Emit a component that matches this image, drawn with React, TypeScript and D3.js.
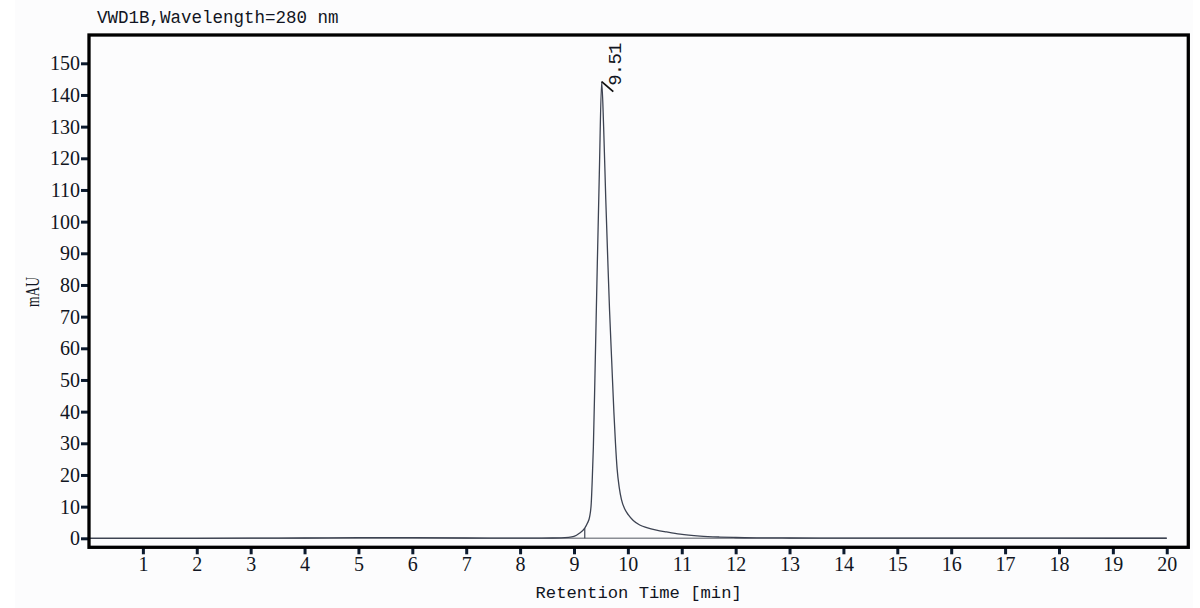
import React, { useEffect, useRef } from 'react';
import { axisBottom, axisLeft, curveMonotoneX, line, scaleLinear, select } from 'd3';

// chromatogram trace (time in min, signal in mAU)
const times = [
  0, 1, 2, 3, 4, 5, 6, 7, 8, 8.6, 8.9, 9.0, 9.1, 9.2, 9.25, 9.29, 9.32, 9.34, 9.36,
  9.39, 9.432, 9.47, 9.514, 9.55, 9.59, 9.627, 9.66, 9.7, 9.74, 9.77, 9.8, 9.84, 9.88,
  9.94, 10.01, 10.1, 10.22, 10.35, 10.53, 10.72, 10.97, 11.34, 11.7, 12, 12.5, 13, 14,
  15, 16, 17, 18, 19, 20,
];
const signal = [
  0, 0, 0, 0.05, 0.1, 0.2, 0.2, 0.1, 0.05, 0.1, 0.3, 0.6, 1.6, 3.2, 4.8, 6.8, 11, 19, 29,
  52, 86, 115, 144.2, 130, 107, 88, 72, 56, 40, 30, 22, 16, 12.3,
  9.3, 7.4, 5.6, 4.2, 3.4, 2.6, 2.0, 1.3, 0.7, 0.4, 0.25, 0.15, 0.1, 0.05,
  0.05, 0.05, 0.03, 0.03, 0.02, 0.02,
];

const xTicks = [1, 2, 3, 4, 5, 6, 7, 8, 9, 10, 11, 12, 13, 14, 15, 16, 17, 18, 19, 20];
const yTicks = [0, 10, 20, 30, 40, 50, 60, 70, 80, 90, 100, 110, 120, 130, 140, 150];

const peakTime = 9.514;
const peakHeight = 144.2;
const peakLabel = '9.51';
const integrationStart = 9.2;
const integrationStartValue = 3.2;

const title = 'VWD1B,Wavelength=280 nm';
const xTitle = 'Retention Time [min]';
const yTitle = 'mAU';

const W = 1200;
const H = 608;
const frame = { left: 89, top: 35, right: 1188.3, bottom: 547.3 };

const monoFont = '"Liberation Mono", "DejaVu Sans Mono", monospace';
const serifFont = '"Liberation Serif", "DejaVu Serif", serif';
const ink = '#111522';

const App: React.FC = () => {
  const svgRef = useRef<SVGSVGElement>(null);

  useEffect(() => {
    const svg = select(svgRef.current);
    svg.selectAll('*').remove();

    const xScale = scaleLinear().domain([0, 20.4]).range([frame.left, frame.right]);
    const yScale = scaleLinear().domain([0, 150]).range([538.3, 63.3]);

    svg
      .append('rect')
      .attr('x', 15)
      .attr('y', 0)
      .attr('width', 1178)
      .attr('height', H)
      .attr('fill', '#fcfcfd');

    // baseline
    svg
      .append('line')
      .attr('x1', xScale(0))
      .attr('x2', xScale(20))
      .attr('y1', yScale(0))
      .attr('y2', yScale(0))
      .attr('stroke', '#8a8d94')
      .attr('stroke-width', 1.6);

    // trace
    const pts = times.map((t, i) => [t, signal[i]] as [number, number]);
    const path = line<[number, number]>()
      .x((d) => xScale(d[0]))
      .y((d) => yScale(d[1]))
      .curve(curveMonotoneX);
    svg
      .append('path')
      .attr('d', path(pts))
      .attr('fill', 'none')
      .attr('stroke', '#3d4352')
      .attr('stroke-width', 1.3);

    // integration start drop line
    svg
      .append('line')
      .attr('x1', xScale(integrationStart))
      .attr('x2', xScale(integrationStart))
      .attr('y1', yScale(0))
      .attr('y2', yScale(integrationStartValue))
      .attr('stroke', '#3d4352')
      .attr('stroke-width', 1.2);

    // peak leader + label
    const px = xScale(peakTime);
    const py = yScale(peakHeight);
    svg
      .append('line')
      .attr('x1', px)
      .attr('y1', py)
      .attr('x2', px + 11.6)
      .attr('y2', py + 10)
      .attr('stroke', '#111')
      .attr('stroke-width', 1.8);
    svg
      .append('text')
      .attr('transform', `translate(${px + 19}, ${py + 4}) rotate(-90)`)
      .attr('font-family', monoFont)
      .attr('font-size', 19)
      .attr('textLength', 43)
      .attr('lengthAdjust', 'spacing')
      .attr('fill', ink)
      .text(peakLabel);

    // axes
    const xAxis = axisBottom(xScale).tickValues(xTicks).tickSize(7).tickSizeOuter(0).tickPadding(3);
    const gx = svg
      .append('g')
      .attr('transform', `translate(0, ${frame.bottom})`)
      .call(xAxis);
    gx.select('.domain').remove();
    gx.selectAll('.tick line').attr('stroke', '#0c1a2e').attr('stroke-width', 3);
    gx.selectAll('.tick text')
      .attr('font-family', serifFont)
      .attr('font-size', 20)
      .attr('fill', ink);

    const yAxis = axisLeft(yScale).tickValues(yTicks).tickSize(8).tickSizeOuter(0).tickPadding(1);
    const gy = svg
      .append('g')
      .attr('transform', `translate(${frame.left}, 0)`)
      .call(yAxis);
    gy.select('.domain').remove();
    gy.selectAll('.tick line').attr('stroke', '#0c1a2e').attr('stroke-width', 3);
    gy.selectAll('.tick text')
      .attr('font-family', serifFont)
      .attr('font-size', 20)
      .attr('fill', ink);

    // frame
    svg
      .append('rect')
      .attr('x', frame.left)
      .attr('y', frame.top)
      .attr('width', frame.right - frame.left)
      .attr('height', frame.bottom - frame.top)
      .attr('fill', 'none')
      .attr('stroke', '#000')
      .attr('stroke-width', 3.3);

    // titles
    svg
      .append('text')
      .attr('x', 97)
      .attr('y', 23)
      .attr('font-family', monoFont)
      .attr('font-size', 17.5)
      .attr('fill', ink)
      .text(title);

    svg
      .append('text')
      .attr('x', (frame.left + frame.right) / 2)
      .attr('y', 598)
      .attr('text-anchor', 'middle')
      .attr('font-family', monoFont)
      .attr('font-size', 17.2)
      .attr('fill', ink)
      .text(xTitle);

    svg
      .append('text')
      .attr('transform', `translate(39, 292) rotate(-90)`)
      .attr('text-anchor', 'middle')
      .attr('font-family', serifFont)
      .attr('font-size', 19)
      .attr('textLength', 30)
      .attr('lengthAdjust', 'spacingAndGlyphs')
      .attr('fill', ink)
      .text(yTitle);
  }, []);

  return (
    <svg
      ref={svgRef}
      width={W}
      height={H}
      style={{ position: 'absolute', left: 0, top: 0, background: '#fff', display: 'block' }}
    />
  );
};

export default App;
